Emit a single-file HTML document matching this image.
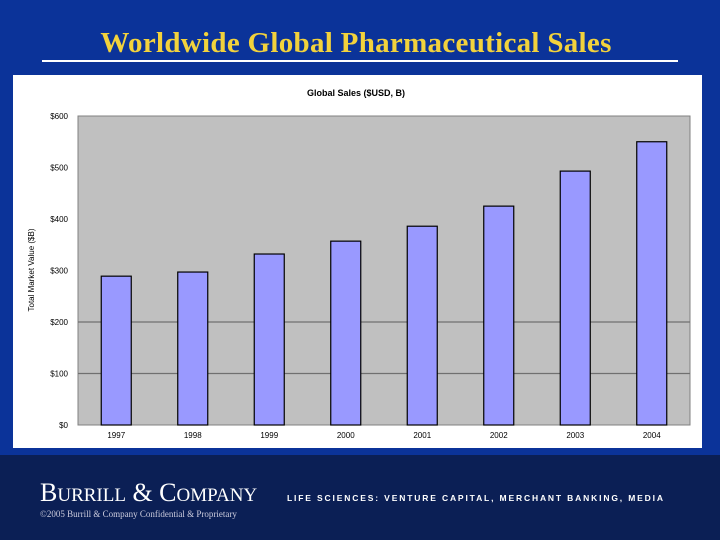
<!DOCTYPE html>
<html><head><meta charset="utf-8"><style>
body{margin:0;width:720px;height:540px;overflow:hidden;background:#0b3399;font-family:"Liberation Sans",sans-serif;position:relative}
#title{position:absolute;left:0;width:712px;top:27px;text-align:center;font:bold 29px "Liberation Serif",serif;color:#f2d23c;letter-spacing:0.3px}
#rule{position:absolute;left:42px;top:60px;width:636px;height:2px;background:#fff}
#footer{position:absolute;left:0;top:455px;width:720px;height:85px;background:#0b1f55}
</style></head><body>
<div id="title">Worldwide Global Pharmaceutical Sales</div>
<div id="rule"></div>
<svg id="chart" width="720" height="540" style="position:absolute;left:0;top:0">
<rect x="13" y="75" width="689" height="373" fill="#fff"/>
<text x="356" y="96" text-anchor="middle" font-size="9" font-weight="bold" fill="#000">Global Sales ($USD, B)</text>
<text transform="translate(34,270) rotate(-90)" text-anchor="middle" font-size="8" fill="#000">Total Market Value ($B)</text>
<g id="plot"></g>
</svg>
<div id="footer">
<div style="position:absolute;left:40px;top:23px;font:26px 'Liberation Serif',serif;color:#fff">B<span style="font-size:19px">URRILL</span> &amp; C<span style="font-size:19px">OMPANY</span></div>
<div style="position:absolute;left:40px;top:54px;font:9px 'Liberation Serif',serif;color:#ccd">©2005 Burrill &amp; Company Confidential &amp; Proprietary</div>
<div style="position:absolute;left:287px;top:38px;font:bold 8.5px 'Liberation Sans',sans-serif;letter-spacing:1.85px;color:#fff">LIFE SCIENCES: VENTURE CAPITAL, MERCHANT BANKING, MEDIA</div>
</div>
<script>
const categories=["1997","1998","1999","2000","2001","2002","2003","2004"];
const sales=[289,297,332,357,386,425,493,550];
const yTicks=[0,100,200,300,400,500,600];
const yTickLabels=["$0","$100","$200","$300","$400","$500","$600"];
const gridTicks=[100,200];
const NS="http://www.w3.org/2000/svg";
const L=78,R=690,T=116,B=425,yMax=600;
const y=v=>B-(v/yMax)*(B-T);
const band=(R-L)/categories.length;
const x=i=>L+band*(i+0.5);
const g=document.getElementById('plot');
function mk(t,a){const e=document.createElementNS(NS,t);for(const k in a)e.setAttribute(k,a[k]);g.appendChild(e);return e;}
const bg=mk('rect',{x:L,y:T,width:R-L,height:B-T,fill:'#c0c0c0',stroke:'#808080'});


gridTicks.forEach(v=>{
  const gl=mk('line',{x1:L,x2:R,y1:y(v),y2:y(v),stroke:'#707070','stroke-width':1.2});
  
  
});
yTicks.forEach((v,i)=>{
  const t=mk('text',{x:L-10,y:y(v)+3,'text-anchor':'end','font-size':8,fill:'#000'});
  t.textContent=yTickLabels[i];
  
  
});
categories.forEach((c,i)=>{
  const w=30;
  const r=mk('rect',{x:x(i)-w/2,y:y(sales[i]),width:w,height:B-y(sales[i]),fill:'#9999ff',stroke:'#000','stroke-width':1.2});
  
  
  const t=mk('text',{x:x(i),y:B+13,'text-anchor':'middle','font-size':8,fill:'#000'});
  t.textContent=c;
  
  
});
</script>
</body></html>
